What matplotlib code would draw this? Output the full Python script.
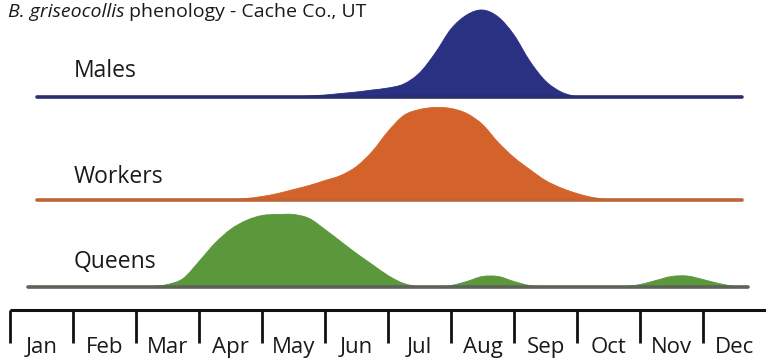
import matplotlib
matplotlib.use("Agg")
import matplotlib.pyplot as plt
from matplotlib.path import Path
from matplotlib.patches import PathPatch
import numpy as np

# ---- data -------------------------------------------------------------
months = ["Jan", "Feb", "Mar", "Apr", "May", "Jun",
          "Jul", "Aug", "Sep", "Oct", "Nov", "Dec"]

# Relative activity (curve height) sampled every quarter month,
# time measured in months from 1 January.
males_t = [4.5, 4.75, 5.0, 5.25, 5.5, 5.75, 6.0, 6.25, 6.5, 6.75, 7.0,
           7.25, 7.5, 7.75, 8.0, 8.25, 8.5, 8.75, 9.0]
males_v = [0, 1, 2, 3.5, 5, 7, 9, 13, 24, 44, 68,
           82, 87, 80, 62, 36, 16, 5, 0]

workers_t = [3.5, 3.75, 4.0, 4.25, 4.5, 4.75, 5.0, 5.25, 5.5, 5.75, 6.0,
             6.25, 6.5, 6.75, 7.0, 7.25, 7.5, 7.75, 8.0, 8.25, 8.5, 8.75,
             9.0, 9.25, 9.5]
workers_v = [0, 1, 3, 6, 10, 14, 19, 24, 33, 48, 68,
             84, 90, 92, 91, 86, 75, 57, 42, 30, 19, 11.5,
             6, 2, 0]

queens_t = [2.25, 2.5, 2.75, 3.0, 3.25, 3.5, 3.75, 4.0, 4.25, 4.5, 4.75,
            5.0, 5.25, 5.5, 5.75, 6.0, 6.25, 6.5, 6.75, 7.0, 7.25, 7.5,
            7.75, 8.0, 8.25, 8.5, 8.75, 9.0, 9.25, 9.5, 9.75, 10.0, 10.25,
            10.5, 10.75, 11.0, 11.25, 11.5]
queens_v = [0, 2, 8, 25, 43, 57, 66, 71, 72, 72, 68,
            57, 45, 33, 22, 11, 3, 0, 0, 1, 5, 10,
            10, 5, 1, 0, 0, 0, 0, 0, 0, 2, 6,
            10, 10.5, 7, 3, 0]

castes = ["Males", "Workers", "Queens"]

# ---- layout / style ---------------------------------------------------
W, H, DPI = 766, 360, 100
px0, month_px = 10, 63          # x of 1 Jan and width of a month (pixels)

rows = {
    # name: (baseline y, line start, line end, fill, line colour, label y)
    "Males":   (263.0, 0.43, 11.62, "#2a3082", "#2b2e6c", 283),
    "Workers": (160.5, 0.43, 11.62, "#d4622b", "#bf6535", 177),
    "Queens":  (73.5,  0.29, 11.71, "#5a983b", "#5d6358", 92),
}
series = {"Males": (males_t, males_v),
          "Workers": (workers_t, workers_v),
          "Queens": (queens_t, queens_v)}

font = ["Open Sans", "DejaVu Sans"]
plt.rcParams["font.family"] = font

fig = plt.figure(figsize=(W / DPI, H / DPI), dpi=DPI)
ax = fig.add_axes([0, 0, 1, 1])
ax.set_xlim(-px0 / month_px, (W - px0) / month_px)
ax.set_ylim(0, H)
ax.axis("off")


def smooth_area(t, v, base):
    """Closed path through the samples using Catmull-Rom cubic segments."""
    pts = np.column_stack([t, base + np.asarray(v, float)])
    verts = [(t[0], base), tuple(pts[0])]
    codes = [Path.MOVETO, Path.LINETO]
    n = len(pts)
    for i in range(n - 1):
        p0 = pts[i - 1] if i > 0 else pts[i]
        p1, p2 = pts[i], pts[i + 1]
        p3 = pts[i + 2] if i + 2 < n else pts[i + 1]
        c1 = p1 + (p2 - p0) / 6.0
        c2 = p2 - (p3 - p1) / 6.0
        verts += [tuple(c1), tuple(c2), tuple(p2)]
        codes += [Path.CURVE4] * 3
    verts += [(t[-1], base), (t[0], base)]
    codes += [Path.LINETO, Path.CLOSEPOLY]
    return Path(verts, codes)


for name in castes:
    base, x0, x1, fc, lc, ly = rows[name]
    t, v = series[name]
    ax.add_patch(PathPatch(smooth_area(t, v, base), facecolor=fc,
                           edgecolor=fc, lw=0.6, zorder=2))
    ax.plot([x0, x1], [base, base], color=lc, lw=2.6,
            solid_capstyle="round", zorder=3)
    ax.text((74 - px0) / month_px, ly, name, fontsize=16.5,
            color="#1a1a1a", ha="left", va="baseline")

# ---- month axis -------------------------------------------------------
axis_y = 50
tick_len = 33
ax.plot([0, 12], [axis_y, axis_y], color="#111111", lw=2.2,
        solid_capstyle="butt", zorder=3)
for i in range(12):
    ax.plot([i, i], [axis_y, axis_y - tick_len], color="#111111", lw=2.0,
            solid_capstyle="butt", zorder=3)
    ax.text(i + 0.5, 7, months[i], fontsize=16, color="#1a1a1a",
            ha="center", va="baseline")

# ---- title (italic species name + plain text) -------------------------
t1 = ax.text(-2 / month_px, H - 17, "B. griseocollis", fontsize=14,
             style="italic", color="#1a1a1a", ha="left", va="baseline")
ax.annotate(" phenology - Cache Co., UT", xy=(1, 0), xycoords=t1,
            fontsize=14, color="#1a1a1a", ha="left", va="bottom")

fig.savefig("out.png", dpi=DPI, facecolor="white")
